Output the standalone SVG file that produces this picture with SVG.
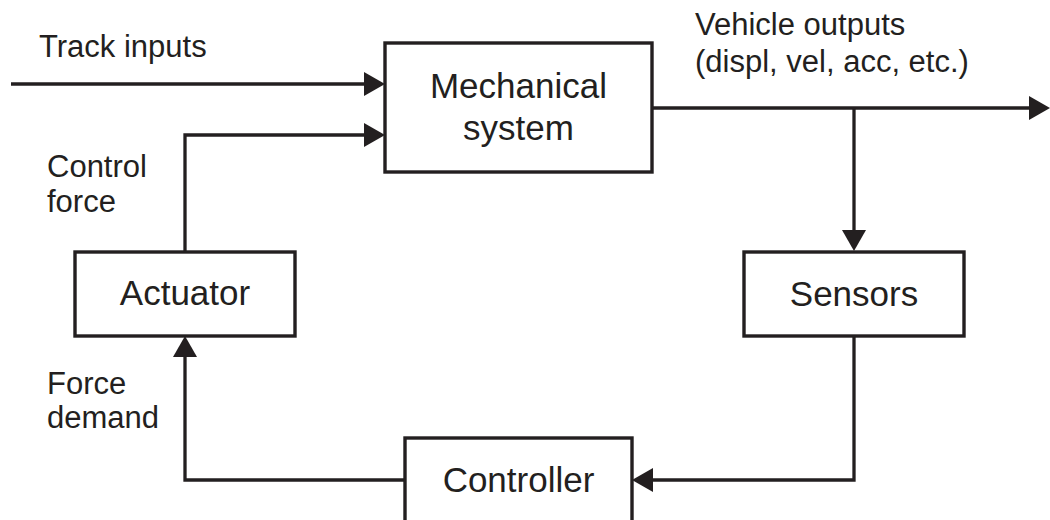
<svg xmlns="http://www.w3.org/2000/svg" width="1050" height="520" viewBox="0 0 1050 520">
  <style>
    .box { fill: #ffffff; stroke: #231f20; stroke-width: 3.4; }
    .line { fill: none; stroke: #231f20; stroke-width: 3.3; }
    .lbl { font-family: "Liberation Sans", Arial, sans-serif; font-size: 31px; fill: #231f20; }
    .ntxt { font-family: "Liberation Sans", Arial, sans-serif; font-size: 35px; fill: #231f20; text-anchor: middle; }
  </style>
  <defs>
    <marker id="arrow" markerUnits="userSpaceOnUse" markerWidth="22" markerHeight="24" refX="17" refY="12" orient="auto">
      <path d="M0,0 L21,12 L0,24 Z" fill="#231f20"/>
    </marker>
  </defs>
  <rect width="1050" height="520" fill="#ffffff"/>

  <g id="connectors">
    <path class="line" d="M11,84 H381" marker-end="url(#arrow)"/>
    <path class="line" d="M185,252 V135 H381" marker-end="url(#arrow)"/>
    <path class="line" d="M652,108 H1046" marker-end="url(#arrow)"/>
    <path class="line" d="M854,108 V247" marker-end="url(#arrow)"/>
    <path class="line" d="M854,336 V480 H636" marker-end="url(#arrow)"/>
    <path class="line" d="M405,480 H185 V340" marker-end="url(#arrow)"/>
  </g>

  <g id="labels">
    <text class="lbl" x="39" y="57">Track inputs</text>
    <text class="lbl" x="47" y="177">Control</text>
    <text class="lbl" x="47" y="212">force</text>
    <text class="lbl" x="47" y="394">Force</text>
    <text class="lbl" x="47" y="428">demand</text>
    <text class="lbl" x="695" y="35">Vehicle outputs</text>
    <text class="lbl" x="695" y="72">(displ, vel, acc, etc.)</text>
  </g>

  <g id="mechanical">
    <rect class="box" x="385" y="43" width="267" height="129"/>
    <text class="ntxt" x="518.5" y="98">Mechanical</text>
    <text class="ntxt" x="518.5" y="140">system</text>
  </g>

  <g id="actuator">
    <rect class="box" x="75" y="252" width="220" height="84"/>
    <text class="ntxt" x="185" y="305">Actuator</text>
  </g>

  <g id="sensors">
    <rect class="box" x="744" y="252" width="220" height="84"/>
    <text class="ntxt" x="854" y="306">Sensors</text>
  </g>

  <g id="controller">
    <rect class="box" x="405" y="438" width="227" height="100"/>
    <text class="ntxt" x="518.5" y="492">Controller</text>
  </g>
</svg>
